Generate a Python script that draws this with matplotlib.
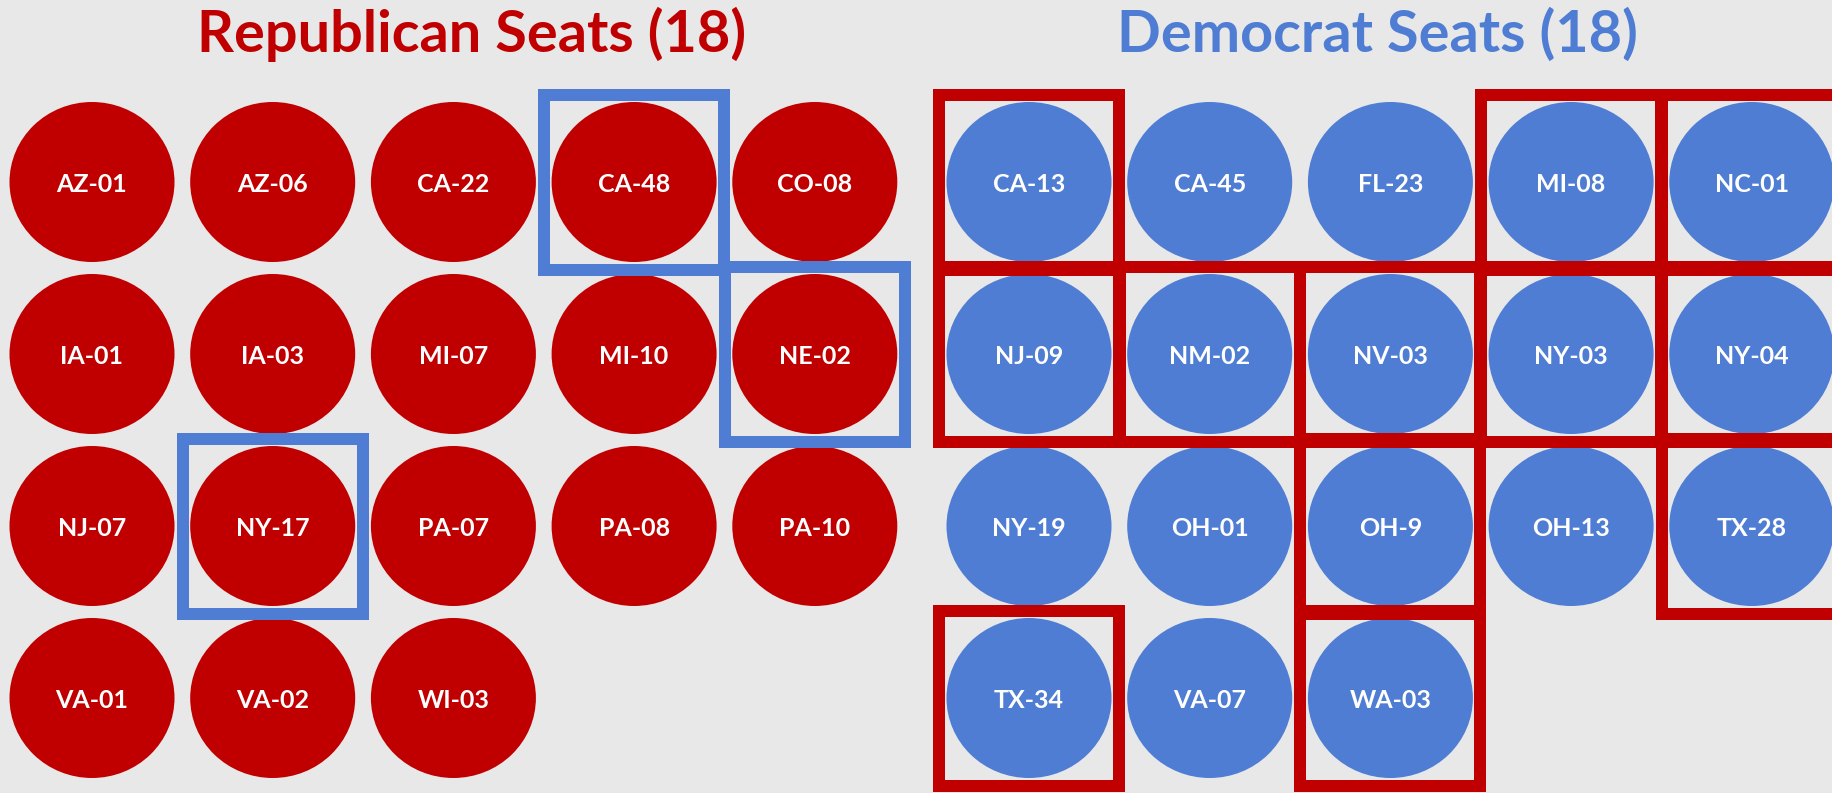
import matplotlib
matplotlib.use('Agg')
import matplotlib.pyplot as plt
from matplotlib.patches import Ellipse, Rectangle

# Seats, listed row by row (5 per row)
rep_seats = ['AZ-01', 'AZ-06', 'CA-22', 'CA-48', 'CO-08',
             'IA-01', 'IA-03', 'MI-07', 'MI-10', 'NE-02',
             'NJ-07', 'NY-17', 'PA-07', 'PA-08', 'PA-10',
             'VA-01', 'VA-02', 'WI-03']
dem_seats = ['CA-13', 'CA-45', 'FL-23', 'MI-08', 'NC-01',
             'NJ-09', 'NM-02', 'NV-03', 'NY-03', 'NY-04',
             'NY-19', 'OH-01', 'OH-9', 'OH-13', 'TX-28',
             'TX-34', 'VA-07', 'WA-03']

# Seats with an outline box
rep_boxed = ['CA-48', 'NE-02', 'NY-17']
dem_boxed = ['CA-13', 'MI-08', 'NC-01', 'NJ-09', 'NM-02', 'NV-03',
             'NY-03', 'NY-04', 'OH-9', 'TX-28', 'TX-34', 'WA-03']

RED = '#c00000'
BLUE = '#4e7dd3'
BG = '#e8e8e8'

W, H = 1832, 793
fig = plt.figure(figsize=(W / 100, H / 100), dpi=100, facecolor=BG)
ax = fig.add_axes([0, 0, 1, 1])
ax.set_xlim(0, W)
ax.set_ylim(H, 0)
ax.axis('off')
ax.set_facecolor(BG)

ncols = 5
dx, dy = 180.7, 172
y0 = 182
lw_box = 12 * 72 / 100


def draw_block(seats, boxed, x0, fill, box_color):
    for i, seat in enumerate(seats):
        r, c = divmod(i, ncols)
        x = x0 + c * dx
        y = y0 + r * dy
        ax.add_patch(Ellipse((x, y), 165, 160, facecolor=fill, edgecolor='none'))
        ax.text(x, y, seat, color='white', fontsize=18, fontweight='bold',
                family='Lato', ha='center', va='center_baseline')
        if seat in boxed:
            ax.add_patch(Rectangle((x - 90, y - 87.5), 180, 175, fill=False,
                                   edgecolor=box_color, linewidth=lw_box,
                                   joinstyle='miter', zorder=3))


draw_block(rep_seats, rep_boxed, 92, RED, BLUE)
draw_block(dem_seats, dem_boxed, 1029, BLUE, RED)

ax.text(472, 52, 'Republican Seats (%d)' % len(rep_seats), color=RED,
        fontsize=41.5, fontweight='bold', family='Lato', ha='center', va='baseline')
ax.text(1377, 52, 'Democrat Seats (%d)' % len(dem_seats), color=BLUE,
        fontsize=41.5, fontweight='bold', family='Lato', ha='center', va='baseline')

fig.savefig('out.png', dpi=100, facecolor=BG)
